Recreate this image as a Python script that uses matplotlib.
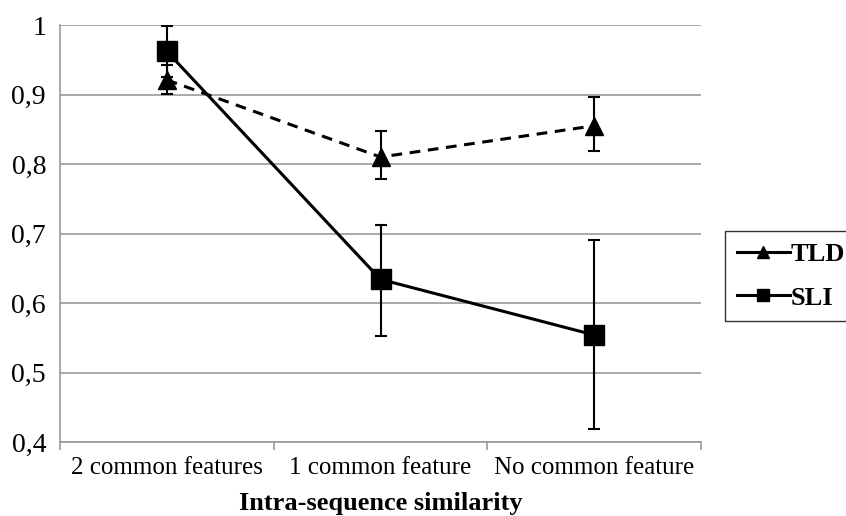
import matplotlib
matplotlib.use("Agg")
import matplotlib.pyplot as plt
from matplotlib.ticker import FuncFormatter, FixedLocator
from matplotlib.lines import Line2D

categories = ["2 common features", "1 common feature", "No common feature"]
tld = [0.921, 0.810, 0.855]
tld_lo = [0.901, 0.779, 0.818]
tld_hi = [0.943, 0.848, 0.897]
sli = [0.962, 0.634, 0.554]
sli_lo = [0.925, 0.553, 0.418]
sli_hi = [0.999, 0.712, 0.691]

plt.rcParams['font.family'] = ['Liberation Serif', 'DejaVu Serif']

fig = plt.figure(figsize=(8.46, 5.16), dpi=100)
ax = fig.add_axes([60/846, 1-442/516, (701-60)/846, (442-25)/516])

x = list(range(len(categories)))
ax.errorbar(x, tld, yerr=[[t - l for t, l in zip(tld, tld_lo)], [h - t for t, h in zip(tld, tld_hi)]],
            color='black', lw=2.2, ls=(0, (3.5, 2.5)), marker='^', markersize=13,
            ecolor='black', elinewidth=1.5, capsize=4.5, capthick=1.5, label='TLD', zorder=3)
ax.errorbar(x, sli, yerr=[[s - l for s, l in zip(sli, sli_lo)], [h - s for s, h in zip(sli, sli_hi)]],
            color='black', lw=2.2, ls='-', marker='s', markersize=14,
            ecolor='black', elinewidth=1.5, capsize=4.5, capthick=1.5, label='SLI', zorder=4)

ax.set_xlim(-0.5, 2.5)
ax.set_ylim(0.4, 1.0)
ax.set_yticks([0.4, 0.5, 0.6, 0.7, 0.8, 0.9, 1.0])
ax.yaxis.set_major_formatter(FuncFormatter(lambda v, p: ('%g' % round(v, 2)).replace('.', ',')))
ax.set_xticks(x)
ax.set_xticklabels(categories, fontsize=18)
ax.xaxis.set_minor_locator(FixedLocator([-0.5, 0.5, 1.5, 2.5]))
ax.tick_params(axis='x', which='major', length=0, pad=11)
ax.tick_params(axis='x', which='minor', length=6, color='#999999', width=1.2)
ax.tick_params(axis='y', length=0, labelsize=20, pad=10)
ax.grid(axis='y', color='#a8a8a8', lw=1.4)
ax.set_axisbelow(True)
for s in ['top', 'right']:
    ax.spines[s].set_visible(False)
for s in ['left', 'bottom']:
    ax.spines[s].set_color('#999999')
    ax.spines[s].set_linewidth(1.2)

ax.set_xlabel("Intra-sequence similarity", fontsize=19, fontweight='bold', labelpad=9)

h1 = Line2D([], [], color='black', lw=2.2, marker='^', markersize=9)
h2 = Line2D([], [], color='black', lw=2.2, marker='s', markersize=9)
leg = fig.legend([h1, h2], ['TLD', 'SLI'], loc='upper left', bbox_to_anchor=(725/846, 1-231/516),
                 frameon=True, fancybox=False, edgecolor='black', prop={'weight': 'bold', 'size': 19},
                 handlelength=2.0, handletextpad=0.05, borderpad=0.45, labelspacing=0.75, borderaxespad=0)
leg.get_frame().set_linewidth(1.0)

fig.savefig("out.png", dpi=100, facecolor='white')
